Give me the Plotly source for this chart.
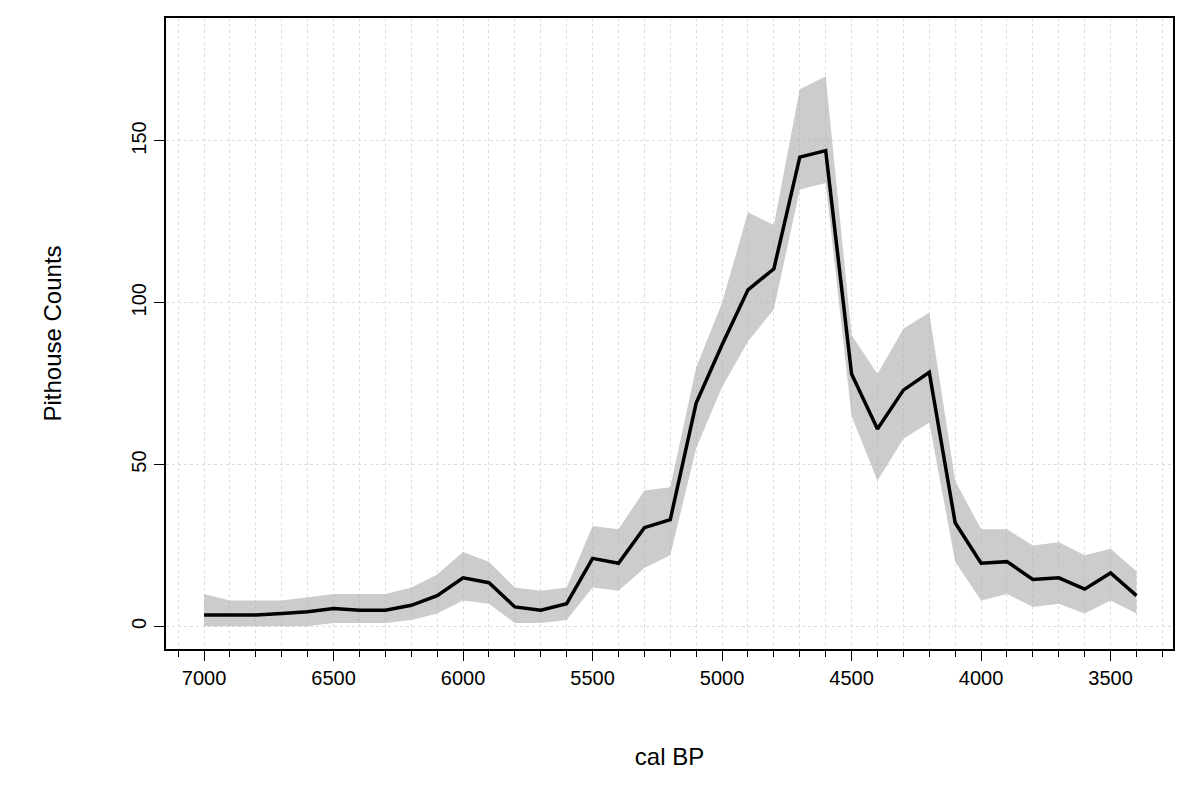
import plotly.graph_objects as go

years = list(range(7000, 3399, -100))
counts = [3.5,3.5,3.5,4,4.5,5.5,5,5,6.5,9.5,15,13.5,6,5,7,21,19.5,30.5,33,69,87,104,110.5,145,147,78,61,73,78.5,32,19.5,20,14.5,15,11.5,16.5,9.5]
upper = [10,8,8,8,9,10,10,10,12,16,23,20,12,11,12,31,30,42,43,80,100,128,124,166,170,90,78,92,97,45,30,30,25,26,22,24,17]
lower = [0,0,0,0,0,1,1,1,2,4,8,7,1,1,2,12,11,18,22,55,74,88,98,135,137,65,45,58,63,20,8,10,6,7,4,8,4]

fig = go.Figure()
fig.add_trace(go.Scatter(x=years, y=upper, mode="lines", line=dict(width=0), showlegend=False, hoverinfo="skip"))
fig.add_trace(go.Scatter(x=years, y=lower, mode="lines", line=dict(width=0), fill="tonexty",
                         fillcolor="rgba(170,170,170,0.6)", showlegend=False, hoverinfo="skip"))
fig.add_trace(go.Scatter(x=years, y=counts, mode="lines", line=dict(color="black", width=3.5), showlegend=False))

font = dict(family="Liberation Sans, Arial, sans-serif", size=20, color="black")
fig.update_layout(
    width=1202, height=789, margin=dict(l=158, r=37, t=8, b=148),
    paper_bgcolor="white", plot_bgcolor="white", font=font,
    xaxis=dict(range=[7147, 3259], tickvals=list(range(7000, 3499, -500)), ticks="outside", ticklen=10,
               tickcolor="black", showline=True, linecolor="black", linewidth=1.5, mirror=True,
               showgrid=True, gridcolor="#dddddd", griddash="dot", gridwidth=1, zeroline=False,
               minor=dict(dtick=100, tick0=7000, ticks="outside", ticklen=6, tickcolor="black",
                          showgrid=True, gridcolor="#dddddd", griddash="dot"),
               title=dict(text="cal BP", standoff=60)),
    yaxis=dict(range=[-7, 188], tickvals=[0, 50, 100, 150], tickangle=-90, ticks="outside", ticklen=10,
               tickcolor="black", showline=True, linecolor="black", linewidth=1.5, mirror=True,
               showgrid=True, gridcolor="#dddddd", griddash="dot", zeroline=False,
               title=dict(text="Pithouse Counts", standoff=60)),
)
fig.write_html("out.html")
